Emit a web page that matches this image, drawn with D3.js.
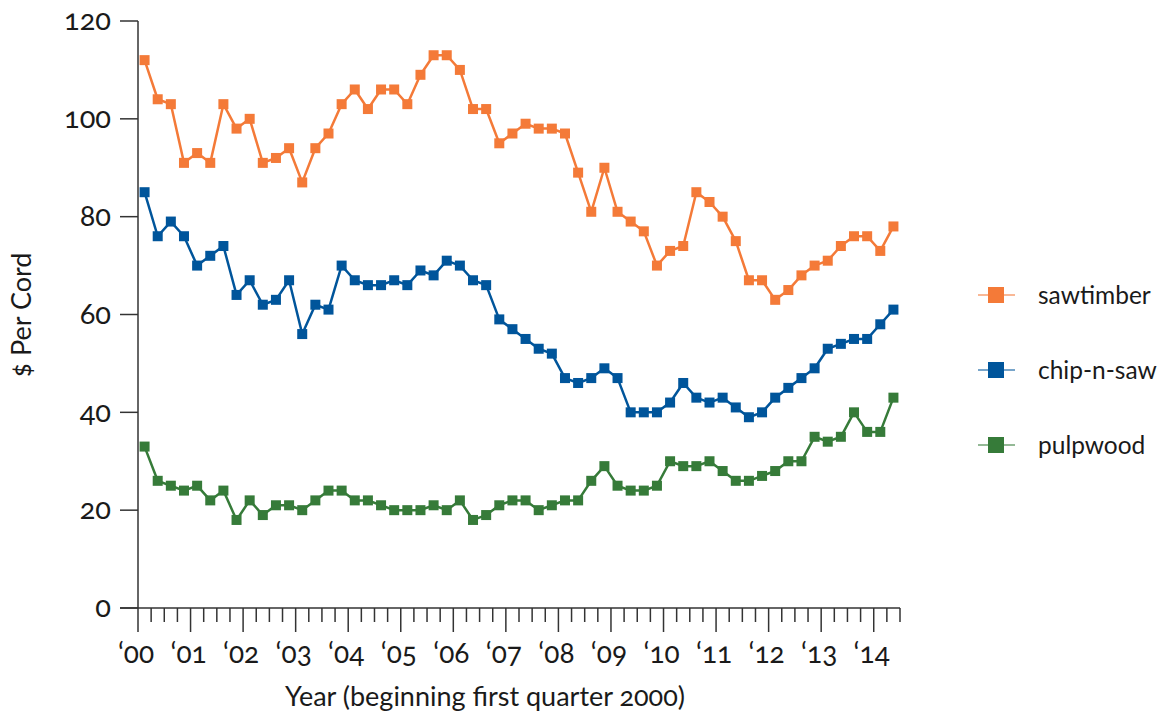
<!DOCTYPE html>
<html>
<head>
<meta charset="utf-8">
<script src="https://cdn.jsdelivr.net/npm/d3@7"></script>
<style>
  html, body { margin: 0; padding: 0; background: #fff; }
  svg { display: block; }
  text { font-family: Lato, "Open Sans", sans-serif; font-variant-numeric: oldstyle-nums; font-feature-settings: "onum" 1; fill: #1a1a1a; }
</style>
</head>
<body>
<svg id="chart" width="1168" height="715"></svg>
<script>
// Quarterly prices, 2000 Q1 .. 2014 Q2
const seriesNames = ["sawtimber", "chip-n-saw", "pulpwood"];
const seriesColors = ["#f47a38", "#00559b", "#367b39"];
const sawtimber = [112,104,103,91,93,91,103,98,100,91,92,94,87,94,97,103,106,102,106,106,103,109,113,113,110,102,102,95,97,99,98,98,97,89,81,90,81,79,77,70,73,74,85,83,80,75,67,67,63,65,68,70,71,74,76,76,73,78];
const chipNSaw = [85,76,79,76,70,72,74,64,67,62,63,67,56,62,61,70,67,66,66,67,66,69,68,71,70,67,66,59,57,55,53,52,47,46,47,49,47,40,40,40,42,46,43,42,43,41,39,40,43,45,47,49,53,54,55,55,58,61];
const pulpwood = [33,26,25,24,25,22,24,18,22,19,21,21,20,22,24,24,22,22,21,20,20,20,21,20,22,18,19,21,22,22,20,21,22,22,26,29,25,24,24,25,30,29,29,30,28,26,26,27,28,30,30,35,34,35,40,36,36,43];
const yTicks = [0,20,40,60,80,100,120];
const yearLabels = ["‘00","‘01","‘02","‘03","‘04","‘05","‘06","‘07","‘08","‘09","‘10","‘11","‘12","‘13","‘14"];
const xTitle = "Year (beginning first quarter 2000)";
const yTitle = "$ Per Cord";

const allSeries = [sawtimber, chipNSaw, pulpwood];
const nQuarters = 58;

const svg = d3.select("#chart");
const x = d3.scaleLinear().domain([0, nQuarters]).range([138, 900]);
const y = d3.scaleLinear().domain([0, 120]).range([608, 21]);
const axisColor = "#333";

// Y axis
const gy = svg.append("g");
gy.append("line").attr("x1", 138).attr("x2", 138).attr("y1", y(120)).attr("y2", y(0))
  .attr("stroke", axisColor).attr("stroke-width", 1.5);
yTicks.forEach(t => {
  gy.append("line").attr("x1", 120).attr("x2", 138).attr("y1", y(t)).attr("y2", y(t))
    .attr("stroke", axisColor).attr("stroke-width", 1.5);
  gy.append("text").attr("x", 111).attr("y", y(t)).attr("dy", "0.32em")
    .attr("text-anchor", "end").attr("font-size", 29).text(t);
});

// X axis
const gx = svg.append("g");
gx.append("line").attr("x1", 120).attr("x2", x(nQuarters)).attr("y1", y(0)).attr("y2", y(0))
  .attr("stroke", axisColor).attr("stroke-width", 1.5);
d3.range(0, nQuarters + 1).forEach(q => {
  const major = q % 4 === 0;
  gx.append("line").attr("x1", x(q)).attr("x2", x(q)).attr("y1", y(0)).attr("y2", y(0) + (major ? 24 : 14))
    .attr("stroke", axisColor).attr("stroke-width", 1.5);
  if (major) {
    gx.append("text").attr("x", x(q) - 2).attr("y", 663).attr("text-anchor", "middle")
      .attr("font-size", 28).text(yearLabels[q / 4]);
  }
});

svg.append("text").attr("x", 485).attr("y", 706).attr("text-anchor", "middle")
  .attr("font-size", 27).text(xTitle);
svg.append("text").attr("transform", "translate(31,315) rotate(-90)").attr("text-anchor", "middle")
  .attr("font-size", 27).text(yTitle);

// Series
const line = d3.line().x((d, i) => x(i + 0.5)).y(d => y(d));
allSeries.forEach((data, si) => {
  const g = svg.append("g");
  g.append("path").datum(data).attr("d", line).attr("fill", "none")
    .attr("stroke", seriesColors[si]).attr("stroke-width", 2.5).attr("stroke-linejoin", "round");
  g.selectAll("rect").data(data).join("rect")
    .attr("x", (d, i) => x(i + 0.5) - 5).attr("y", d => y(d) - 5)
    .attr("width", 10).attr("height", 10).attr("fill", seriesColors[si]);
});

// Legend
seriesNames.forEach((name, si) => {
  const ly = 295 + si * 75;
  const g = svg.append("g");
  g.append("line").attr("x1", 978).attr("x2", 1015).attr("y1", ly).attr("y2", ly)
    .attr("stroke", seriesColors[si]).attr("stroke-width", 1.5).attr("opacity", 0.7);
  g.append("rect").attr("x", 988).attr("y", ly - 8).attr("width", 16).attr("height", 16)
    .attr("fill", seriesColors[si]);
  g.append("text").attr("x", 1038).attr("y", ly).attr("dy", "0.35em").attr("font-size", 24.5).text(name);
});
</script>
</body>
</html>
